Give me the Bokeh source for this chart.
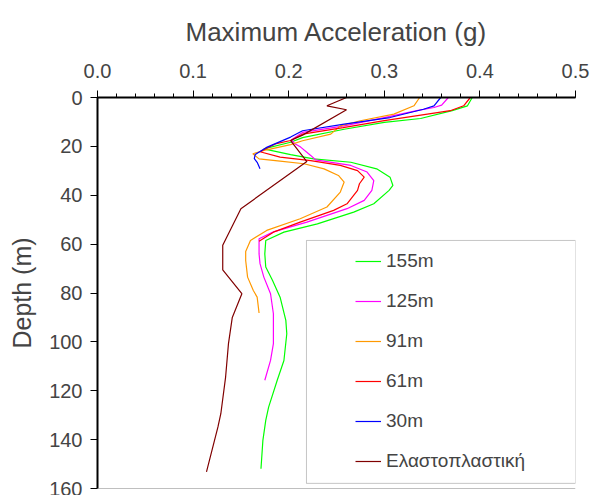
from bokeh.plotting import figure
from bokeh.models import (Range1d, FixedTicker, Legend, LegendItem, BoxAnnotation,
                          Span, NumeralTickFormatter)
from bokeh.embed import file_html
from bokeh.resources import INLINE

# ---- data (depth in m, max acceleration in g) ----
d_155 = [0, 3.4, 5.4, 8.6, 10.2, 13, 16.4, 18.3, 21.0, 23.4, 25.1, 26.5, 29.2, 32.6, 36, 38,
         43.5, 46.9, 51.7, 55.1, 58.5, 64, 69.4, 74.8, 81.7, 91.2, 96.7, 107.6, 115.7,
         126.7, 132.1, 140.3, 151.9]
a_155 = [0.392, 0.387, 0.371, 0.338, 0.300, 0.258, 0.2145, 0.202, 0.174, 0.202, 0.226, 0.265,
         0.292, 0.306, 0.309, 0.305, 0.289, 0.268, 0.230, 0.195, 0.176, 0.175, 0.176, 0.183,
         0.191, 0.197, 0.198, 0.195, 0.188, 0.179, 0.176, 0.173, 0.171]

d_125 = [0, 3.1, 4.1, 5.4, 8.2, 11.6, 14.3, 17.3, 18.8, 20.3, 23.7, 25.5, 27.8, 30.5, 34, 38,
         42.1, 45.5, 51, 55, 57.8, 64, 68, 73.5, 80.3, 88.5, 94, 100.7, 107.6, 115.7]
a_125 = [0.367, 0.360, 0.352, 0.334, 0.300, 0.258, 0.2145, 0.203, 0.206, 0.2125, 0.223, 0.228,
         0.265, 0.282, 0.289, 0.287, 0.279, 0.261, 0.219, 0.184, 0.169, 0.169, 0.170, 0.174,
         0.181, 0.184, 0.184, 0.184, 0.181, 0.175]

d_91 = [0, 3.4, 6.8, 9.5, 11.6, 15, 17.7, 19.3, 21.4, 23.0, 25.1, 26.0, 27.1, 29.2, 31.9, 34.6,
        38.7, 44.8, 49.6, 54.4, 58.5, 63, 66.7, 73.5, 79, 81.7, 88.2]
a_91 = [0.337, 0.331, 0.310, 0.275, 0.254, 0.244, 0.2145, 0.202, 0.177, 0.1625, 0.169, 0.191,
        0.216, 0.237, 0.252, 0.258, 0.254, 0.240, 0.212, 0.177, 0.160, 0.155, 0.155, 0.157,
        0.163, 0.167, 0.169]

d_61 = [0, 3.4, 5.4, 6.4, 9.5, 12.3, 15, 17.6, 19, 21, 22.2, 24.4, 25.8, 27.8, 29.9, 32.6,
        35.3, 38, 43.5, 46.2, 51, 55.1, 58.8]
a_61 = [0.390, 0.383, 0.369, 0.352, 0.300, 0.257, 0.2145, 0.202, 0.186, 0.176, 0.170, 0.191,
        0.223, 0.254, 0.272, 0.279, 0.274, 0.272, 0.261, 0.247, 0.212, 0.184, 0.169]

d_30 = [0, 3.4, 4.8, 8.2, 10.9, 13.6, 16.2, 20.3, 23.3, 25, 26.5, 29.2]
a_30 = [0.359, 0.352, 0.341, 0.306, 0.258, 0.2145, 0.202, 0.1775, 0.165, 0.164, 0.167, 0.170]

d_ep = [0, 3.4, 5.0, 15.4, 17.6, 26.2, 45.5, 60.5, 70.5, 80.3, 90, 100.7, 114.4, 129.4, 134.8,
        153.2]
a_ep = [0.2605, 0.240, 0.2605, 0.2145, 0.202, 0.219, 0.150, 0.131, 0.131, 0.151, 0.141, 0.137,
        0.134, 0.129, 0.126, 0.114]

series_names = ["155m", "125m", "91m", "61m", "30m", "Ελαστοπλαστική"]
series_colors = ["#00FF00", "#FF00FF", "#FF9900", "#FF0000", "#0000FF", "#800000"]
series_x = [a_155, a_125, a_91, a_61, a_30, a_ep]
series_y = [d_155, d_125, d_91, d_61, d_30, d_ep]

x_ticks = [0.0, 0.1, 0.2, 0.3, 0.4, 0.5]
y_ticks = [0, 20, 40, 60, 80, 100, 120, 140, 160]

FONT = "Liberation Sans"

p = figure(width=591, height=495, output_backend="svg", toolbar_location=None,
           x_range=Range1d(0, 0.5), y_range=Range1d(160, 0),
           x_axis_location="above",
           min_border_left=97, min_border_right=16, min_border_top=97, min_border_bottom=7)
p.xgrid.visible = False
p.ygrid.visible = False
p.outline_line_color = None
p.background_fill_color = "white"
p.border_fill_color = "white"

# legend frame (drawn separately so its padding can be asymmetric)
p.add_layout(BoxAnnotation(left=0.2186, right=0.5, top=58.5, bottom=157.9,
                           fill_alpha=0, line_color="#404040", line_width=1))
# bottom border of the plot area
p.add_layout(Span(location=160, dimension="width", line_color="#808080", line_width=1))

items = []
for name, col, xs, ys in zip(series_names, series_colors, series_x, series_y):
    r = p.line(xs, ys, line_color=col, line_width=1.2)
    items.append(LegendItem(label=name, renderers=[r]))

legend = Legend(items=items, location=(258, 16), border_line_alpha=0,
                background_fill_alpha=0, padding=0, margin=0, spacing=18,
                glyph_width=26, glyph_height=20, label_height=20, label_standoff=5,
                label_text_font_size="19px", label_text_font=FONT)
p.add_layout(legend)

minor = [i * 0.02 for i in range(26)]
xa = p.xaxis[0]
xa.ticker = FixedTicker(ticks=x_ticks, minor_ticks=minor)
xa.formatter = NumeralTickFormatter(format="0.0")
xa.axis_label = "Maximum Acceleration (g)"
xa.axis_label_text_font = FONT
xa.axis_label_text_font_size = "26px"
xa.axis_label_text_font_style = "normal"
xa.axis_label_standoff = 14
xa.major_label_text_font = FONT
xa.major_label_text_font_size = "20px"
xa.major_label_standoff = 13
xa.axis_line_width = 2
xa.major_tick_out = 7
xa.major_tick_in = 0
xa.minor_tick_out = 4
xa.minor_tick_in = 0
xa.major_tick_line_width = 1
xa.minor_tick_line_width = 1

ya = p.yaxis[0]
ya.ticker = FixedTicker(ticks=y_ticks)
ya.axis_label = "Depth (m)"
ya.axis_label_text_font = FONT
ya.axis_label_text_font_size = "25px"
ya.axis_label_text_font_style = "normal"
ya.axis_label_standoff = 10
ya.major_label_text_font = FONT
ya.major_label_text_font_size = "20px"
ya.major_label_standoff = 8
ya.axis_line_width = 2
ya.major_tick_out = 7
ya.major_tick_in = 0
ya.minor_tick_out = 0
ya.minor_tick_in = 0
ya.minor_tick_line_color = None

open("out.html", "w").write(file_html(p, INLINE))
